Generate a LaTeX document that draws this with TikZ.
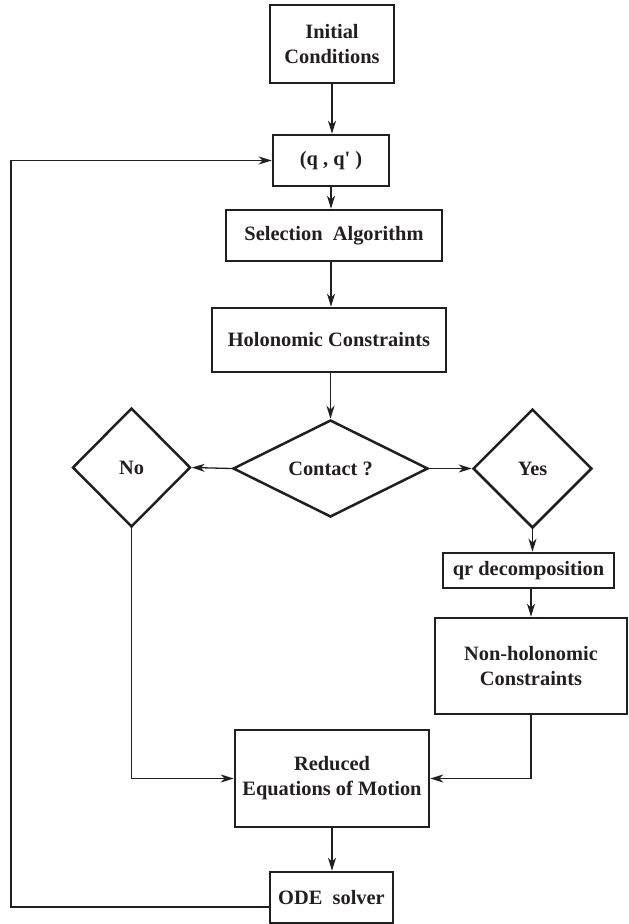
\documentclass[tikz,border=0pt]{standalone}
\usepackage{fontspec}
\setmainfont{Liberation Serif}
\usetikzlibrary{shapes.geometric,arrows.meta}
\definecolor{ink}{HTML}{231F20}
\begin{document}
\begin{tikzpicture}[x=1pt,y=1pt,
  font=\fontsize{20.4}{25}\selectfont\bfseries,
  every node/.style={text=ink},
  box/.style={draw=ink,rectangle,line width=2.5pt,inner sep=0pt,align=center},
  choice/.style={draw=ink,diamond,line width=2.5pt,inner sep=0pt,shape aspect=1,align=center},
  link/.style={draw=ink,line width=1.3pt,-{Stealth[length=13pt,width=8pt,inset=4pt]}},
  plain/.style={draw=ink,line width=1.3pt}]
\useasboundingbox (0,0) rectangle (629,-924);

% blocks of the integration loop
\node[box,minimum width=124pt,minimum height=78pt] (init) at (332,-44) {Initial\\Conditions};
\node[box,minimum width=116pt,minimum height=51pt] (state) at (331,-160.5) {(q , q\textquotesingle\ )};
\node[box,minimum width=216pt,minimum height=51pt] (select) at (334,-235.5) {Selection~~Algorithm};
\node[box,minimum width=234pt,minimum height=64pt] (holo) at (329,-340) {Holonomic Constraints};
\node[choice,shape aspect=2,minimum width=195pt,minimum height=97pt] (contact) at (330.5,-468.5) {Contact ?};
\node[choice,minimum width=118pt,minimum height=119pt] (no) at (131.5,-467.5) {No};
\node[choice,minimum width=119pt,minimum height=119pt] (yes) at (532.5,-468.5) {Yes};
\node[box,minimum width=171pt,minimum height=35pt] (qr) at (528.5,-570.5) {qr decomposition};
\node[box,minimum width=192pt,minimum height=96pt] (nonholo) at (531,-666) {Non-holonomic\\Constraints};
\node[box,minimum width=194pt,minimum height=97pt] (reduced) at (332,-778.5) {Reduced\\Equations of Motion};
\node[box,minimum width=123pt,minimum height=51pt] (ode) at (331.5,-897.5) {ODE~~solver};

\coordinate (loopdown) at (11,-907);

% main chain
\draw[link] (init.south) -- (init.south |- state.north);
\draw[link] (state.south) -- (state.south |- select.north);
\draw[link] (select.south -| state.south) -- (state.south |- holo.north);
\draw[link] (contact.north |- holo.south) -- (contact.north);
\draw[link] (contact.west) -- (no.east);
\draw[link] (contact.east) -- (yes.west);
\draw[link] (yes.south) -- (yes.south |- qr.north);
\draw[link] (nonholo.north |- qr.south) -- (nonholo.north);
\draw[link] (no.south) |- (reduced.west);
\draw[link] (nonholo.south) |- (reduced.east);
\draw[link] (reduced.south) -- (reduced.south |- ode.north);

% feedback to the state
\draw[link] (ode.west |- loopdown) -- (loopdown) |- (state.west);
\end{tikzpicture}
\end{document}
